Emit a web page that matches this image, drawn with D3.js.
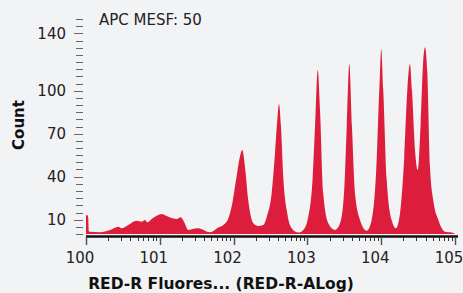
<!DOCTYPE html>
<html>
<head>
<meta charset="utf-8">
<script src="https://cdn.jsdelivr.net/npm/d3@7"></script>
<style>
  body { margin: 0; background: #f2f3f5; }
  svg { display: block; font-family: "DejaVu Sans", Verdana, sans-serif; }
</style>
</head>
<body>
<svg id="chart" width="463" height="293"></svg>
<script>
// histogram: channel position in decades, and count
var decades = [0.000, 0.020, 0.030, 0.038, 0.054, 0.19, 0.325, 0.438, 0.484, 0.551,
	0.687, 0.755, 0.799, 0.831, 0.89, 1.026, 1.093, 1.138, 1.229, 1.283,
	1.328, 1.386, 1.432, 1.522, 1.68, 1.793, 1.86, 1.928, 1.974, 2.033,
	2.087, 2.118, 2.154, 2.199, 2.267, 2.335, 2.402, 2.449, 2.516, 2.561,
	2.592, 2.615, 2.642, 2.673, 2.72, 2.787, 2.877, 2.944, 3.012, 3.072,
	3.103, 3.14, 3.171, 3.215, 3.283, 3.374, 3.442, 3.496, 3.533, 3.568,
	3.604, 3.645, 3.713, 3.804, 3.871, 3.93, 3.974, 4.001, 4.028, 4.075,
	4.142, 4.2, 4.255, 4.313, 4.354, 4.39, 4.417, 4.458, 4.495, 4.535,
	4.57, 4.593, 4.625, 4.661, 4.706, 4.774, 4.864, 4.955, 5.0];
var counts = [13.3, 13.0, 11.5, 2.0, 1.5, 1.2, 2.8, 5.1, 4.0, 5.6,
	9.3, 8.6, 9.8, 8.2, 10.5, 14.0, 12.6, 11.5, 10.5, 11.7,
	8.6, 2.8, 3.3, 4.0, 1.2, 4.5, 6.3, 10.9, 19.3, 37.7,
	54.2, 58.6, 47.0, 23.3, 7.5, 5.6, 6.3, 12.1, 28.6, 56.5,
	79.5, 90.7, 74.9, 40.0, 16.7, 4.0, 1.0, 2.8, 12.1, 40.0,
	74.9, 114.4, 86.5, 28.4, 7.5, 2.8, 7.5, 28.4, 74.9, 118.6,
	74.9, 28.4, 9.8, 2.3, 9.8, 42.4, 100.5, 128.9, 100.5, 37.7,
	9.8, 4.0, 14.4, 54.2, 100.5, 118.6, 100.5, 58.6, 44.7, 77.6,
	121.4, 130.3, 112.1, 47.0, 23.3, 9.8, 1.6, 1.0, 0];

var xTickLabels = ["100", "101", "102", "103", "104", "105"];
var yTickValues = [10, 40, 70, 100, 140];
var annotation = "APC MESF: 50";
var xTitle = "RED-R Fluores... (RED-R-ALog)";
var yTitle = "Count";

var cfg = {
	left: 86,
	right: 455,
	top: 19,
	bottom: 234,
	fill: "#dc1e3c"
};

var svg = d3.select("#chart");

var x = d3.scaleLog()
	.domain([1, 1e5])
	.range([cfg.left, cfg.right]);

var y = d3.scaleLinear()
	.domain([0, 150])
	.range([cfg.bottom, cfg.top]);

var ds = decades.map(function(d, i) {
	return { v: Math.pow(10, d), c: counts[i] };
});

var area = d3.area()
	.x(function(d) { return x(d.v); })
	.y0(y(0))
	.y1(function(d) { return y(d.c); })
	.curve(d3.curveMonotoneX);

svg.append("path")
	.datum(ds)
	.attr("d", area)
	.attr("fill", cfg.fill);

// x axis: thick base line, log ticks
var majors = d3.range(0, 6).map(function(k) { return Math.pow(10, k); });
var minors = [];
for (var k = 0; k < 5; k++) {
	for (var m = 2; m < 10; m++) {
		minors.push(m * Math.pow(10, k));
	}
}

var xAxis = svg.append("g");

xAxis.append("line")
	.attr("x1", cfg.left)
	.attr("x2", cfg.right + 3)
	.attr("y1", 236.5)
	.attr("y2", 236.5)
	.attr("stroke", "#111")
	.attr("stroke-width", 2.5);

xAxis.selectAll("line.minor")
	.data(minors)
	.enter().append("line")
	.attr("class", "minor")
	.attr("x1", function(d) { return Math.round(x(d)) + 0.5; })
	.attr("x2", function(d) { return Math.round(x(d)) + 0.5; })
	.attr("y1", 237)
	.attr("y2", 241)
	.attr("stroke", "#333");

xAxis.selectAll("line.major")
	.data(majors)
	.enter().append("line")
	.attr("class", "major")
	.attr("x1", function(d) { return Math.round(x(d)) + 0.5; })
	.attr("x2", function(d) { return Math.round(x(d)) + 0.5; })
	.attr("y1", 237)
	.attr("y2", 245)
	.attr("stroke", "#555")
	.attr("stroke-width", 1.5);

xAxis.selectAll("text")
	.data(majors)
	.enter().append("text")
	.attr("x", function(d) { return x(d) - 6; })
	.attr("y", 263)
	.attr("text-anchor", "middle")
	.attr("font-size", 15)
	.attr("fill", "#222")
	.text(function(d, i) { return xTickLabels[i]; });

// y axis: ticks only, every 5
var yAxis = svg.append("g");

yAxis.selectAll("line")
	.data(d3.range(0, 151, 5))
	.enter().append("line")
	.attr("x1", function(d) { return yTickValues.indexOf(d) === -1 ? 76 : 74; })
	.attr("x2", 83)
	.attr("y1", function(d) { return Math.round(y(d)) + 0.5; })
	.attr("y2", function(d) { return Math.round(y(d)) + 0.5; })
	.attr("stroke", "#666");

yAxis.selectAll("text")
	.data(yTickValues)
	.enter().append("text")
	.attr("x", 66)
	.attr("y", function(d) { return y(d); })
	.attr("dy", "0.36em")
	.attr("text-anchor", "end")
	.attr("font-size", 15)
	.attr("fill", "#222")
	.text(function(d) { return d; });

svg.append("text")
	.attr("x", 99)
	.attr("y", 25)
	.attr("font-size", 15)
	.attr("fill", "#222")
	.text(annotation);

svg.append("text")
	.attr("x", 221)
	.attr("y", 289)
	.attr("text-anchor", "middle")
	.attr("font-size", 15.5)
	.attr("font-weight", "bold")
	.attr("fill", "#111")
	.text(xTitle);

svg.append("text")
	.attr("transform", "translate(24,125) rotate(-90)")
	.attr("text-anchor", "middle")
	.attr("font-size", 15)
	.attr("font-weight", "bold")
	.attr("fill", "#111")
	.text(yTitle);
</script>
</body>
</html>
